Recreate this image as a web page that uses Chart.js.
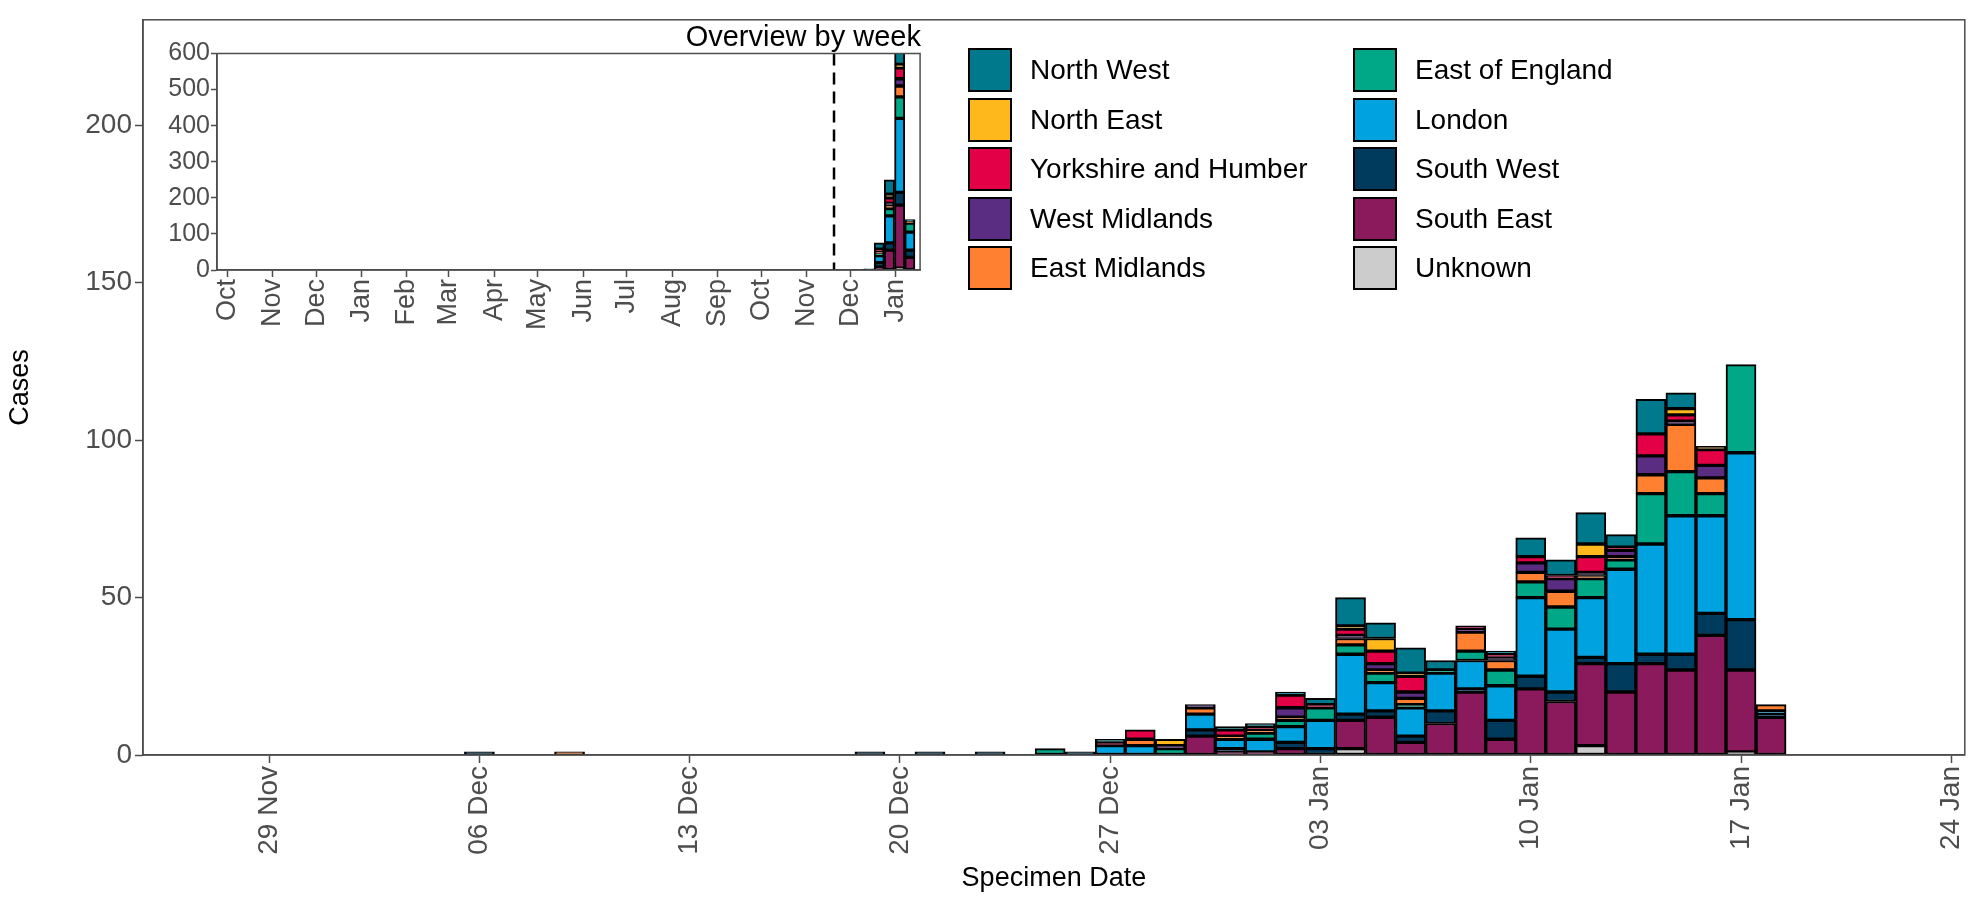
<!DOCTYPE html>
<html>
<head>
<meta charset="utf-8">
<script src="https://cdn.jsdelivr.net/npm/chart.js@4.4.1/dist/chart.umd.min.js"></script>
<style>
  body { margin: 0; background: #fff; font-family: "Liberation Sans", Arial, sans-serif; }
  #wrap { position: relative; width: 1988px; height: 899px; }
  #main { position: absolute; left: 0; top: 0; }
  #inset { position: absolute; left: 140px; top: 20px; }
  #insetTitle { position: absolute; right: calc(1988px - 921px); top: 20px; font-size: 29px; color: #000; }
  .key { position: absolute; width: 44px; height: 44px; border: 2px solid #000; box-sizing: border-box; }
  .lab { position: absolute; font-size: 28px; color: #000; line-height: 44px; }
</style>
</head>
<body>
<div id="wrap">
  <canvas id="main" width="1988" height="899"></canvas>
  <canvas id="inset" width="790" height="330"></canvas>
  <div id="insetTitle">Overview by week</div>
  <div id="legend"></div>
</div>
<script>
// regions, bottom of the stack first
const regions = ['Unknown', 'South East', 'South West', 'London', 'East of England',
                 'East Midlands', 'West Midlands', 'Yorkshire and Humber', 'North East', 'North West'];
const colours = ['#cccccc', '#8a1a5c', '#003a5d', '#00a3e0', '#00a887',
                 '#ff8030', '#5a2d82', '#e40046', '#ffb81c', '#00798c'];

// daily counts (main chart)
const days = ['2020-12-06','2020-12-09','2020-12-19','2020-12-21','2020-12-23','2020-12-25','2020-12-26',
  '2020-12-27','2020-12-28','2020-12-29','2020-12-30','2020-12-31','2021-01-01','2021-01-02','2021-01-03',
  '2021-01-04','2021-01-05','2021-01-06','2021-01-07','2021-01-08','2021-01-09','2021-01-10','2021-01-11',
  '2021-01-12','2021-01-13','2021-01-14','2021-01-15','2021-01-16','2021-01-17','2021-01-18'];
const unknown   = [0,0,0,0,0, 0,0,0,0,0, 0,0,0,0,0, 2,0,0,0,0, 0,0,0,3,0, 0,0,0,1,0];
const southEast = [0,0,0,0,0, 0,0,0,0,0, 6,1,1,2,0, 9,12,4,10,20, 5,21,17,26,20, 29,27,38,26,12];
const southWest = [1,0,1,1,1, 0,1,0,0,0, 2,1,0,2,2, 2,2,2,4,1, 6,4,3,2,9, 3,5,7,16,1];
const london    = [0,0,0,0,0, 0,0,3,3,0, 5,3,4,5,9, 19,9,9,12,9, 11,25,20,19,30, 35,44,31,53,1];
const eastEng   = [0,0,0,0,0, 2,0,0,0,2, 0,0,2,2,4, 3,3,1,1,3, 5,5,7,6,3, 16,14,7,28,0];
const eastMid   = [0,1,0,0,0, 0,0,0,2,0, 2,1,1,1,0, 2,1,2,0,6, 3,3,5,1,1, 6,15,5,0,2];
const westMid   = [0,0,0,0,0, 0,0,0,0,1, 1,0,0,3,0, 1,2,2,0,1, 1,3,4,1,2, 6,1,4,0,0];
const yorks     = [0,0,0,0,0, 0,0,1,3,0, 0,2,1,4,1, 2,4,5,0,1, 1,2,1,5,1, 7,2,5,0,0];
const northEast = [0,0,0,0,0, 0,0,0,0,2, 0,0,0,0,0, 1,4,1,0,0, 0,0,0,4,0, 0,2,1,0,0];
const northWest = [0,0,0,0,0, 0,0,1,0,0, 0,1,1,1,2, 9,5,8,3,0, 1,6,5,10,4, 11,5,0,0,0];
const dailySeries = [unknown, southEast, southWest, london, eastEng, eastMid, westMid, yorks, northEast, northWest];

const mainTickDates = ['2020-11-29','2020-12-06','2020-12-13','2020-12-20','2020-12-27','2021-01-03','2021-01-10','2021-01-17','2021-01-24'];
const mainTickLabels = ['29 Nov','06 Dec','13 Dec','20 Dec','27 Dec','03 Jan','10 Jan','17 Jan','24 Jan'];
const mainYTicks = [0, 50, 100, 150, 200];

// weekly counts (inset)
const weeks = ['2020-12-07','2020-12-14','2020-12-21','2020-12-28','2021-01-04','2021-01-11'];
const wUnknown   = [0,0,0,0,5,0];
const wSouthEast = [0,0,8,55,175,35];
const wSouthWest = [1,2,12,20,35,20];
const wLondon    = [0,0,20,75,205,50];
const wEastEng   = [0,1,5,20,60,25];
const wEastMid   = [1,0,5,10,30,5];
const wWestMid   = [0,0,0,5,20,0];
const wYorks     = [0,0,8,15,30,0];
const wNorthEast = [0,0,0,10,10,0];
const wNorthWest = [0,0,17,40,60,5];
const weeklySeries = [wUnknown, wSouthEast, wSouthWest, wLondon, wEastEng, wEastMid, wWestMid, wYorks, wNorthEast, wNorthWest];

const insetTickDates = ['2019-10-01','2019-11-01','2019-12-01','2020-01-01','2020-02-01','2020-03-01','2020-04-01',
  '2020-05-01','2020-06-01','2020-07-01','2020-08-01','2020-09-01','2020-10-01','2020-11-01','2020-12-01','2021-01-01'];
const insetTickLabels = ['Oct','Nov','Dec','Jan','Feb','Mar','Apr','May','Jun','Jul','Aug','Sep','Oct','Nov','Dec','Jan'];
const insetYTicks = [0, 100, 200, 300, 400, 500, 600];
const dashedDate = '2020-11-20';

const DAY = 86400000;
function dayNum(s, origin) { return Math.round((Date.parse(s) - Date.parse(origin)) / DAY); }

const FONT = '"Liberation Sans", Arial, sans-serif';
const GREY = '#4d4d4d';

const frame = {
  id: 'frame',
  afterDraw(chart) {
    const a = chart.chartArea, c = chart.ctx;
    c.save();
    c.strokeStyle = GREY;
    c.lineWidth = 1.5;
    c.strokeRect(a.left, a.top, a.right - a.left, a.bottom - a.top);
    c.restore();
  }
};

function makeDatasets(series, xs) {
  return series.map((vals, i) => ({
    label: regions[i],
    data: vals.map((v, j) => ({ x: xs[j], y: v > 0 ? v : null })),
    backgroundColor: colours[i],
    borderColor: '#000',
    borderWidth: 2,
    borderSkipped: false,
    barPercentage: 1,
    categoryPercentage: 1
  }));
}

// main chart
const mainOrigin = '2020-11-29';
const mainXs = days.map(d => dayNum(d, mainOrigin));
const mainTicks = mainTickDates.map(d => dayNum(d, mainOrigin));

new Chart(document.getElementById('main'), {
  type: 'bar',
  data: { datasets: makeDatasets(dailySeries, mainXs) },
  options: {
    responsive: false,
    animation: false,
    layout: { padding: { top: 6, right: 16, left: 0, bottom: 0 } },
    plugins: { legend: { display: false }, tooltip: { enabled: false } },
    scales: {
      x: {
        type: 'linear', stacked: true, min: -4.2, max: 56.45, offset: false,
        afterBuildTicks(s) { s.ticks = mainTicks.map(v => ({ value: v })); },
        afterFit(s) { s.height = 144; },
        grid: { offset: false, drawOnChartArea: false, color: GREY, tickLength: 8, tickWidth: 1.5 },
        border: { color: GREY, width: 1.5 },
        ticks: {
          autoSkip: false, maxRotation: 90, minRotation: 90, color: GREY,
          font: { family: FONT, size: 28 },
          callback: (v, i) => mainTickLabels[i]
        },
        title: { display: true, text: 'Specimen Date', color: '#000', font: { family: FONT, size: 27 }, padding: { top: 0 } }
      },
      y: {
        stacked: true, min: 0, max: 233.5,
        afterBuildTicks(s) { s.ticks = mainYTicks.map(v => ({ value: v })); },
        afterFit(s) { s.width = 143; },
        grid: { drawOnChartArea: false, color: GREY, tickLength: 8, tickWidth: 1.5 },
        border: { color: GREY, width: 1.5 },
        ticks: { autoSkip: false, color: GREY, font: { family: FONT, size: 28 } },
        title: { display: true, text: 'Cases', color: '#000', font: { family: FONT, size: 27 }, padding: { bottom: 12 } }
      }
    }
  },
  plugins: [frame]
});

// inset chart
const insetOrigin = '2019-10-01';
const insetXs = weeks.map(d => dayNum(d, insetOrigin));
const insetTicks = insetTickDates.map(d => dayNum(d, insetOrigin));
const dashedX = dayNum(dashedDate, insetOrigin);

const dashed = {
  id: 'dashed',
  afterDatasetsDraw(chart) {
    const x = chart.scales.x.getPixelForValue(dashedX), a = chart.chartArea, c = chart.ctx;
    c.save();
    c.setLineDash([12, 7]);
    c.strokeStyle = '#000';
    c.lineWidth = 2.5;
    c.beginPath(); c.moveTo(x, a.top); c.lineTo(x, a.bottom); c.stroke();
    c.restore();
  }
};

new Chart(document.getElementById('inset'), {
  type: 'bar',
  data: { datasets: makeDatasets(weeklySeries, insetXs) },
  options: {
    responsive: false,
    animation: false,
    layout: { padding: { top: 33.5, right: 9, left: 0, bottom: 0 } },
    plugins: { legend: { display: false }, tooltip: { enabled: false } },
    scales: {
      x: {
        type: 'linear', stacked: true, min: -7, max: 475, offset: false,
        afterBuildTicks(s) { s.ticks = insetTicks.map(v => ({ value: v })); },
        afterFit(s) { s.height = 80; },
        grid: { offset: false, drawOnChartArea: false, color: GREY, tickLength: 7, tickWidth: 1.5 },
        border: { color: GREY, width: 1.5 },
        ticks: {
          autoSkip: false, maxRotation: 90, minRotation: 90, color: GREY, padding: 2,
          font: { family: FONT, size: 27 },
          callback: (v, i) => insetTickLabels[i]
        }
      },
      y: {
        stacked: true, min: 0, max: 600,
        afterBuildTicks(s) { s.ticks = insetYTicks.map(v => ({ value: v })); },
        afterFit(s) { s.width = 77; },
        grid: { drawOnChartArea: false, color: GREY, tickLength: 6, tickWidth: 1.5 },
        border: { color: GREY, width: 1.5 },
        ticks: { autoSkip: false, color: GREY, padding: 1, font: { family: FONT, size: 25, lineHeight: 1 } }
      }
    }
  },
  plugins: [frame, dashed]
});

// legend, two columns in the top right of the panel
const legendOrder = ['North West', 'North East', 'Yorkshire and Humber', 'West Midlands', 'East Midlands',
                     'East of England', 'London', 'South West', 'South East', 'Unknown'];
const legend = document.getElementById('legend');
legendOrder.forEach((name, k) => {
  const col = Math.floor(k / 5), row = k % 5;
  const left = col === 0 ? 968 : 1353;
  const top = 48 + row * 49.5;
  const key = document.createElement('div');
  key.className = 'key';
  key.style.left = left + 'px';
  key.style.top = top + 'px';
  key.style.background = colours[regions.indexOf(name)];
  legend.appendChild(key);
  const lab = document.createElement('div');
  lab.className = 'lab';
  lab.style.left = (left + 62) + 'px';
  lab.style.top = top + 'px';
  lab.textContent = name;
  legend.appendChild(lab);
});
</script>
</body>
</html>
